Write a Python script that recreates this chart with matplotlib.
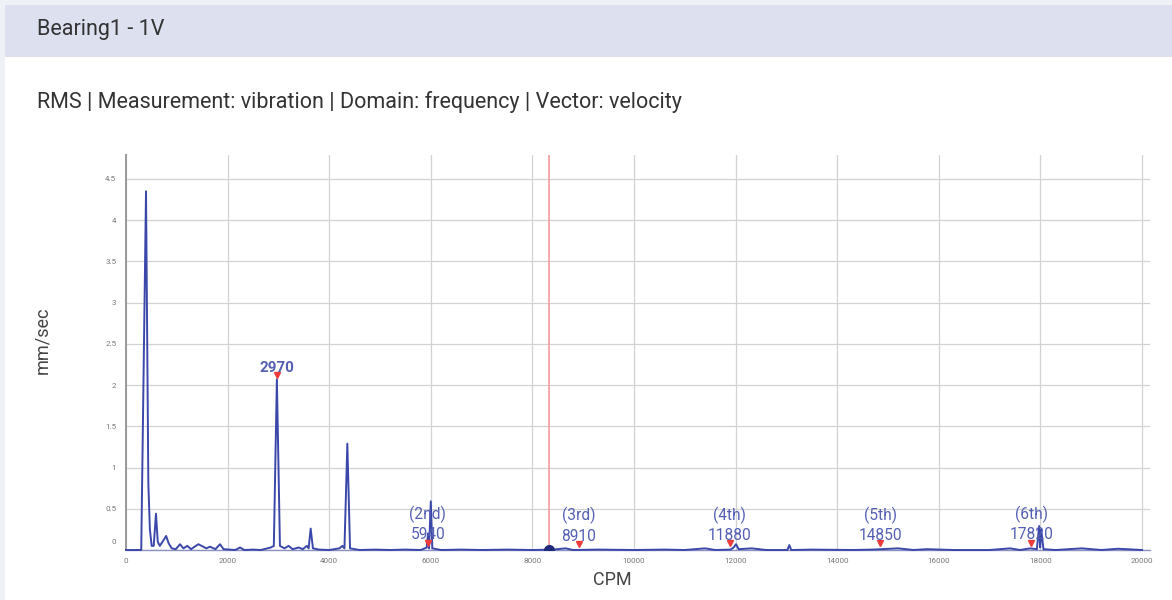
import matplotlib
matplotlib.use('agg')
import matplotlib.pyplot as plt
import matplotlib.transforms as mtransforms
from matplotlib.patches import Rectangle

plt.rcParams['font.family'] = ['Roboto', 'DejaVu Sans']

# spectrum (CPM vs mm/sec)
cpm = [0, 300, 394, 440, 470, 505, 545, 590, 625, 665, 740, 790, 840, 900,
       980, 1063, 1130, 1207, 1280, 1424, 1520, 1580, 1654, 1760, 1850, 1920,
       2150, 2244, 2330, 2500, 2650, 2850, 2910, 2970, 3030, 3120, 3200, 3280,
       3400, 3480, 3560, 3595, 3635, 3680, 3800, 4000, 4200, 4260, 4300, 4357,
       4410, 4600, 4900, 5200, 5500, 5800, 5920, 5945, 5965, 6000, 6030, 6200,
       6600, 7000, 7500, 8000, 8400, 8655, 8800, 9300, 10000, 10600, 11000,
       11398, 11600, 11900, 11960, 12008, 12060, 12317, 12600, 13020, 13057,
       13095, 13500, 14300, 14700, 15197, 15500, 15762, 16300, 17000, 17402,
       17600, 17795, 17930, 17975, 17995, 18015, 18060, 18300, 18813, 19200,
       19528, 20000]
mm_sec = [0, 0, 4.35, 0.8, 0.25, 0.05, 0.05, 0.44, 0.1, 0.05, 0.12, 0.17, 0.08, 0.02,
          0.01, 0.07, 0.02, 0.05, 0.01, 0.07, 0.04, 0.02, 0.04, 0.01, 0.07, 0.01,
          0.0, 0.03, 0.0, 0.005, 0.0, 0.03, 0.05, 2.07, 0.05, 0.02, 0.05, 0.01,
          0.03, 0.01, 0.05, 0.02, 0.26, 0.02, 0.005, 0.0, 0.02, 0.05, 0.02, 1.29,
          0.02, 0.0, 0.005, 0.0, 0.005, 0.0, 0.03, 0.2, 0.02, 0.59, 0.02, 0.0,
          0.005, 0.0, 0.005, 0.0, 0.005, 0.02, 0.0, 0.005, 0.0, 0.005, 0.0,
          0.02, 0.0, 0.005, 0.03, 0.07, 0.01, 0.02, 0.0, 0.0, 0.06,
          0.0, 0.005, 0.0, 0.005, 0.02, 0.0, 0.01, 0.0, 0.0, 0.02,
          0.0, 0.02, 0.01, 0.29, 0.03, 0.25, 0.01, 0.0, 0.02, 0.0,
          0.015, 0.0]

# harmonic markers
harm_cpm = [2970, 5940, 8910, 11880, 14850, 17820]
harm_y = [2.12, 0.09, 0.07, 0.08, 0.08, 0.09]
harm_tags = ['', '(2nd)', '(3rd)', '(4th)', '(5th)', '(6th)']

cursor_cpm = 8327

line_c = '#3b48aa'
text_c = '#5560b4'

fig = plt.figure(figsize=(11.72, 6.0), dpi=100)
fig.patch.set_facecolor('white')

# page frame + header band
fig.add_artist(Rectangle((0, 0), 5 / 1172, 1, transform=fig.transFigure,
                         facecolor='#eef1f5', edgecolor='none', zorder=0))
fig.add_artist(Rectangle((0, 1 - 5 / 600), 1, 5 / 600, transform=fig.transFigure,
                         facecolor='#eef1f5', edgecolor='none', zorder=0))
fig.add_artist(Rectangle((5 / 1172, 1 - 57 / 600), 1, 52 / 600, transform=fig.transFigure,
                         facecolor='#dde0ef', edgecolor='none', zorder=0))

fig.text(37 / 1172, 1 - 30 / 600, 'Bearing1 - 1V', fontsize=15.5, color='#333333',
         ha='left', va='center')
fig.text(37 / 1172, 1 - 102 / 600,
         'RMS | Measurement: vibration | Domain: frequency | Vector: velocity',
         fontsize=15.5, color='#333333', ha='left', va='center')

ax = fig.add_axes([126 / 1172, 50 / 600, 1024 / 1172, 395 / 600])

ax.plot(cpm, mm_sec, color=line_c, lw=1.4, clip_on=False, zorder=3)
ax.axvline(cursor_cpm, color='#f4a3a3', lw=1.3, zorder=2)
ax.plot([cursor_cpm], [0], 'o', ms=7, color='#1f2a7a', zorder=4)

for i in range(len(harm_cpm)):
    ax.plot(harm_cpm[i], harm_y[i], 'v', ms=5, color='#ef3b3b', zorder=5)
    if i == 0:
        ax.annotate(str(harm_cpm[i]), (harm_cpm[i], harm_y[i]), xytext=(0, 5),
                    textcoords='offset points', ha='center', va='center',
                    fontsize=11, fontweight='bold', color=text_c, zorder=6)
    else:
        ax.annotate(str(harm_cpm[i]), (harm_cpm[i], harm_y[i]), xytext=(0, 5.5),
                    textcoords='offset points', ha='center', va='center',
                    fontsize=11.2, color=text_c, zorder=6)
        ax.annotate(harm_tags[i], (harm_cpm[i], harm_y[i]), xytext=(0, 20.5),
                    textcoords='offset points', ha='center', va='center',
                    fontsize=11.2, color=text_c, zorder=6)

ax.set_xlim(0, 20157)
ax.set_ylim(0, 4.79)
ax.set_xticks(range(0, 20001, 2000))
ax.set_yticks([0, 0.5, 1, 1.5, 2, 2.5, 3, 3.5, 4, 4.5])
ax.set_yticklabels(['0', '0.5', '1', '1.5', '2', '2.5', '3', '3.5', '4', '4.5'])
ax.tick_params(length=0, labelsize=5.8, labelcolor='#777777')
ax.tick_params(axis='x', pad=6)
ax.tick_params(axis='y', pad=7)
ax.grid(True, color='#d2d2d2', lw=0.9)
ax.set_axisbelow(True)

for s in ['top', 'right']:
    ax.spines[s].set_visible(False)
ax.spines['left'].set_color('#999999')
ax.spines['left'].set_linewidth(1.4)
ax.spines['bottom'].set_color('#8a90c0')
ax.spines['bottom'].set_linewidth(1.0)

# the "0" label in the reference sits a bit above the axis
zero_lbl = ax.get_yticklabels()[0]
zero_lbl.set_transform(zero_lbl.get_transform() +
                       mtransforms.ScaledTranslation(0, 8 / 100, fig.dpi_scale_trans))

fig.text(42 / 1172, 1 - 340 / 600, 'mm/sec', rotation=90, fontsize=13,
         color='#444444', ha='center', va='center')
fig.text(612 / 1172, 1 - 580 / 600, 'CPM', fontsize=13, color='#444444',
         ha='center', va='center')

plt.savefig('out.png', dpi=100)
